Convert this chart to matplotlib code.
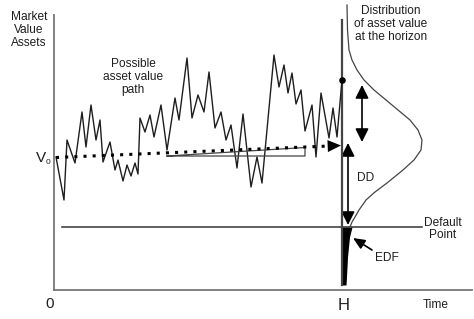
import matplotlib
matplotlib.use("Agg")
import matplotlib.pyplot as plt
from matplotlib.patches import FancyArrowPatch

# drawing is laid out in pixel units of the 474x319 picture (y grows downward)
path_x = [56, 64, 67, 75, 82, 86, 91, 96, 100, 103, 110, 115, 118, 123, 127, 131, 135, 138,
          140, 145, 150, 154, 161, 167, 175, 179, 187, 192, 198, 204, 209, 215, 221, 226, 231,
          237, 243, 251, 257, 262, 274, 279, 284, 288, 292, 296, 301, 305, 312, 316, 321, 329,
          333, 337, 342]
path_y = [157, 200, 140, 163, 112, 147, 105, 140, 120, 162, 142, 170, 160, 181, 165, 176, 163, 174,
          118, 132, 115, 137, 105, 150, 98, 120, 58, 118, 95, 112, 72, 128, 112, 140, 125,
          168, 114, 187, 157, 183, 55, 87, 65, 93, 73, 104, 90, 131, 105, 157, 93, 138,
          108, 137, 80]

trend_x = [56, 341]
trend_y = [157.5, 145.5]

dist_y = [5, 30, 50, 60, 70, 80, 90, 100, 110, 120, 130, 140, 150, 160, 170, 183, 192, 200,
          210, 217, 222, 227]
dist_x = [347, 347.5, 349, 352, 357, 364, 374, 386, 398, 410, 418, 422, 421, 414, 403, 387, 375,
          366, 359, 355, 352, 350]

tail_y = [227, 237, 247, 257, 267, 277, 285]
tail_x = [352, 349.5, 348.5, 347.5, 347, 346.5, 346]

horizon_x = 342
default_y = 227

fig = plt.figure(figsize=(4.74, 3.19), dpi=100, facecolor="white")
ax = fig.add_axes([0, 0, 1, 1])
ax.set_xlim(0, 474)
ax.set_ylim(319, 0)
ax.axis("off")

font = "Liberation Sans"
ink = "#1e1e1e"
fs = 8.6

# axes
ax.plot([54, 54], [15, 290], color="#777777", lw=1.3)
ax.plot([54, 472], [290, 290], color="#777777", lw=1.3)

# default point line
ax.plot([62, 422], [default_y, default_y], color="#333333", lw=1.1)

# horizon line
ax.plot([horizon_x, horizon_x], [20, 285], color="#444444", lw=1.6)

# asset path
ax.plot(path_x, path_y, color=ink, lw=1.0)
ax.scatter([path_x[-1]], [path_y[-1]], s=14, color="black", zorder=5)

# slope triangle under the trend
ax.plot([167, 305, 305, 167], [156, 156, 147.5, 156], color="#444444", lw=0.9)

# expected trend (dotted) with arrowhead
ax.plot(trend_x[:1] + [trend_x[1] - 12], [trend_y[0], trend_y[1] + 0.5], color="black",
        lw=2.2, ls=(0, (1, 2.0)))
ax.add_patch(FancyArrowPatch((trend_x[1] - 14, trend_y[1] + 0.6), (trend_x[1], trend_y[1]),
                             arrowstyle="-|>,head_length=0.6,head_width=0.27", mutation_scale=16,
                             color="black", lw=0, shrinkA=0, shrinkB=0))

# distribution at horizon
ax.plot(dist_x, dist_y, color="#444444", lw=0.9)
ax.fill_betweenx(tail_y, horizon_x - 0.8, tail_x, color="black", lw=0)

# arrows
ax.add_patch(FancyArrowPatch((362, 85), (362, 142), arrowstyle="<|-|>,head_length=0.5,head_width=0.25",
                             mutation_scale=16, color="black", lw=1.2, shrinkA=0, shrinkB=0))
ax.add_patch(FancyArrowPatch((348, 143), (348, 225), arrowstyle="<|-|>,head_length=0.5,head_width=0.25",
                             mutation_scale=16, color="black", lw=1.2, shrinkA=0, shrinkB=0))
ax.add_patch(FancyArrowPatch((372, 250), (353, 238), arrowstyle="-|>,head_length=0.5,head_width=0.22",
                             mutation_scale=14, color="black", lw=1.2, shrinkA=0, shrinkB=0))

# labels
ax.text(29, 30, "Market\nValue\nAssets", ha="center", va="center", fontsize=fs, family=font,
        color=ink, linespacing=1.15)
ax.text(133, 77, "Possible\nasset value\npath", ha="center", va="center", fontsize=fs, family=font,
        color=ink, linespacing=1.15)
ax.text(391, 24, "Distribution\nof asset value\nat the horizon", ha="center", va="center",
        fontsize=fs, family=font, color=ink, linespacing=1.15)
ax.text(36, 158, "V", ha="left", va="center", fontsize=11, family=font, color=ink)
ax.text(45.5, 162, "0", ha="left", va="center", fontsize=6, family=font, color=ink)
ax.text(366, 178, "DD", ha="center", va="center", fontsize=fs, family=font, color=ink)
ax.text(443, 229, "Default\nPoint", ha="center", va="center", fontsize=fs, family=font,
        color=ink, linespacing=1.1)
ax.text(387, 258, "EDF", ha="center", va="center", fontsize=fs, family=font, color=ink)
ax.text(50, 304, "0", ha="center", va="center", fontsize=11, family=font, color=ink)
ax.text(344, 305, "H", ha="center", va="center", fontsize=12, family=font, color=ink)
ax.text(436, 305, "Time", ha="center", va="center", fontsize=fs, family=font, color=ink)

fig.savefig("out.png", dpi=100, facecolor="white")
